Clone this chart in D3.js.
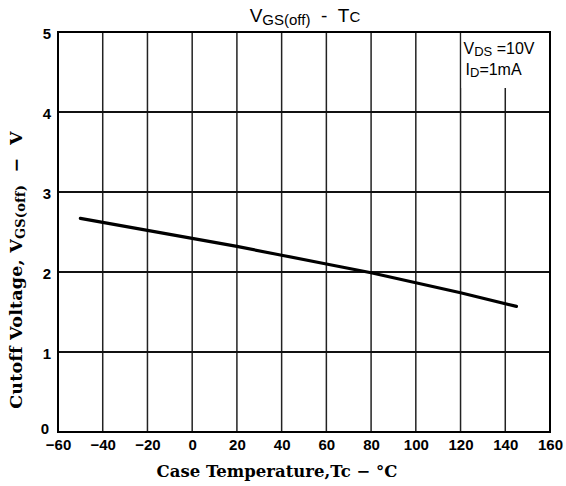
<!DOCTYPE html>
<html>
<head>
<meta charset="utf-8">
<script src="https://cdn.jsdelivr.net/npm/d3@7"></script>
<style>
  body { margin: 0; background: #fff; }
  svg { display: block; }
</style>
</head>
<body>
<div id="app"></div>
<script>
// data
const tempTicks = [-60, -40, -20, 0, 20, 40, 60, 80, 100, 120, 140, 160]
const voltTicks = [0, 1, 2, 3, 4, 5]
const tempValues = [-50, 0, 20, 40, 60, 80, 120, 145]
const voltValues = [2.67, 2.42, 2.32, 2.21, 2.10, 1.99, 1.74, 1.57]

const W = 566, H = 486
const margin = { left: 58, top: 32, right: 16, bottom: 54 }
const bounds = {
  width: W - margin.left - margin.right,
  height: H - margin.top - margin.bottom
}
const sans = 'Liberation Sans, Arial, sans-serif'
const serif = 'DejaVu Serif, serif'
const sp = '\u00A0'

const svg = d3.select('#app')
  .append('svg')
    .attr('width', W)
    .attr('height', H)

const g = svg.append('g')
  .attr('transform', `translate(${margin.left}, ${margin.top})`)

const xScale = d3.scaleLinear()
  .domain([-60, 160])
  .range([0, bounds.width])
const yScale = d3.scaleLinear()
  .domain([0, 5])
  .range([bounds.height, 0])

// grid
g.selectAll('.vgrid')
  .data(tempTicks.slice(1, -1))
  .join('line')
    .attr('class', 'vgrid')
    .attr('x1', d => xScale(d)).attr('x2', d => xScale(d))
    .attr('y1', 0).attr('y2', bounds.height)
    .attr('stroke', '#222').attr('stroke-width', 1.5)
g.selectAll('.hgrid')
  .data(voltTicks.slice(1, -1))
  .join('line')
    .attr('class', 'hgrid')
    .attr('x1', 0).attr('x2', bounds.width)
    .attr('y1', d => yScale(d)).attr('y2', d => yScale(d))
    .attr('stroke', '#111').attr('stroke-width', 2)

// condition box (top right)
const bx = xScale(120)
g.append('rect')
  .attr('x', bx + 1).attr('y', 1)
  .attr('width', bounds.width - bx - 2).attr('height', 55)
  .attr('fill', '#fff')
const cond = g.append('g')
  .attr('font-family', sans)
  .attr('fill', '#000')
const t1 = cond.append('text').attr('x', bx + 3).attr('y', 22).attr('font-size', 16)
t1.append('tspan').text('V')
t1.append('tspan').attr('font-size', 13).attr('dy', 2).text('DS')
t1.append('tspan').attr('dy', -2).text(sp + '=10V')
const t2 = cond.append('text').attr('x', bx + 5).attr('y', 43).attr('font-size', 16)
t2.append('tspan').text('I')
t2.append('tspan').attr('font-size', 13).attr('dy', 2).text('D')
t2.append('tspan').attr('dy', -2).text('=1mA')

// frame
g.append('rect')
  .attr('width', bounds.width).attr('height', bounds.height)
  .attr('fill', 'none').attr('stroke', '#000').attr('stroke-width', 2)

// axes (labels only)
const xAxis = g.append('g')
  .attr('transform', `translate(0, ${bounds.height})`)
  .call(d3.axisBottom(xScale).tickValues(tempTicks).tickSize(0).tickPadding(7)
    .tickFormat(d3.format('d')))
const yAxis = g.append('g')
  .call(d3.axisLeft(yScale).tickValues(voltTicks).tickSize(0).tickPadding(7)
    .tickFormat(d3.format('d')))
g.selectAll('.domain').remove()
g.selectAll('.tick text')
  .attr('font-family', sans)
  .attr('font-weight', 'bold')
  .attr('font-size', 15)
  .attr('fill', '#000')
yAxis.selectAll('.tick text').attr('dy', '0.4em')
yAxis.select('.tick text').attr('dy', '0.1em').attr('x', -9)

// curve
const line = d3.line()
  .x((d, i) => xScale(tempValues[i]))
  .y(d => yScale(d))
g.append('path')
  .datum(voltValues)
  .attr('d', line)
  .attr('fill', 'none')
  .attr('stroke', '#000')
  .attr('stroke-width', 3.2)
  .attr('stroke-linecap', 'round')

// title
const title = svg.append('text')
  .attr('x', 305).attr('y', 22)
  .attr('text-anchor', 'middle')
  .attr('font-family', sans)
  .attr('font-size', 19)
title.append('tspan').text('V')
title.append('tspan').attr('font-size', 15).attr('dy', 3).text('GS(off)')
title.append('tspan').attr('dy', -3).text(sp + sp + '-' + sp + sp + 'T')
title.append('tspan').attr('font-size', 15).text('C')

// axis titles
svg.append('text')
  .attr('x', 277).attr('y', 477)
  .attr('text-anchor', 'middle')
  .attr('font-family', serif)
  .attr('font-weight', 'bold')
  .attr('font-size', 16.5)
  .text('Case Temperature,Tc \u2212 \u00B0C')

const yl = svg.append('text')
  .attr('transform', 'translate(22, 270) rotate(-90)')
  .attr('text-anchor', 'middle')
  .attr('font-family', serif)
  .attr('font-weight', 'bold')
  .attr('font-size', 17.5)
  .attr('letter-spacing', 0.2)
yl.append('tspan').text('Cutoff Voltage, V')
yl.append('tspan').attr('font-size', 13).attr('dy', 3).text('GS(off)')
yl.append('tspan').attr('dy', -3).text(sp + sp + '\u2212' + sp + sp + 'V')
</script>
</body>
</html>
